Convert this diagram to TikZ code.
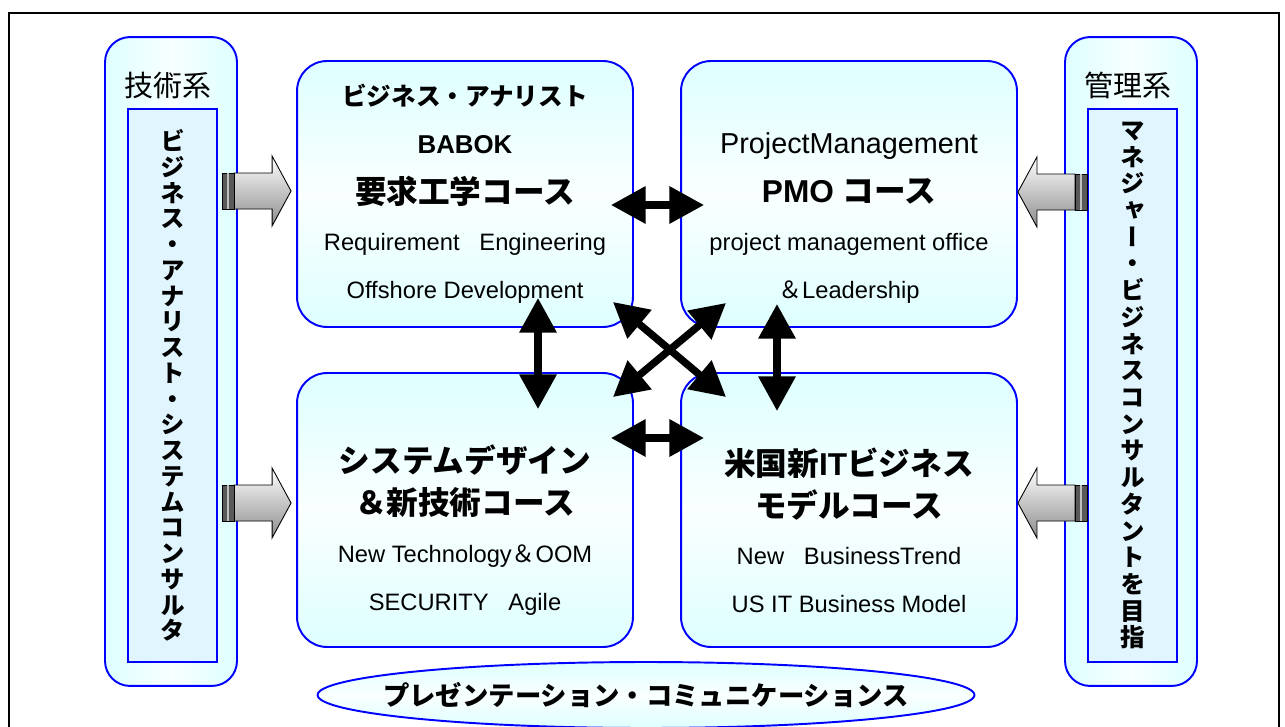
\documentclass[tikz,border=0pt]{standalone}
\usepackage{fontspec}
\setmainfont{Liberation Sans}
\newfontfamily\jp{Noto Sans CJK JP}
\newfontfamily\jpv{Noto Sans CJK JP}[RawFeature=+vert]
\usetikzlibrary{shapes.geometric,arrows.meta,calc}
\tikzset{
  course/.style = {rectangle, rounded corners=0.6cm, draw=blue, line width=1.1pt,
                   top color=cyan!13, bottom color=cyan!13, middle color=cyan!2,
                   align=center, minimum width=6.72cm, inner sep=0pt,
                   font=\fontsize{13.5}{27.2}\selectfont},
  pillar/.style = {rectangle, rounded corners=0.5cm, draw=blue, line width=1.1pt,
                   left color=cyan!13, right color=cyan!13, middle color=cyan!3,
                   minimum width=2.64cm, minimum height=12.98cm},
  tate/.style   = {rectangle, draw=blue, line width=0.9pt, fill=cyan!12,
                   minimum width=1.78cm, minimum height=11.06cm, inner sep=0pt,
                   align=center},
  side/.style   = {font=\jp\fontsize{16.5}{20}\selectfont},
  dbl/.style    = {{Triangle[length=19.8pt,width=20.4pt]}-{Triangle[length=19.8pt,width=20.4pt]},
                   line width=4.2pt},
  talk/.style   = {ellipse, draw=blue, line width=1.1pt, top color=cyan!13,
                   bottom color=cyan!13, middle color=cyan!2, inner sep=0pt,
                   minimum width=13.14cm, minimum height=1.32cm},
}
\newcommand\gap{{\jp\fontsize{14}{27.2}\selectfont\phantom{ビ}}}
% grey block arrow with striped tail, #1 = tip, #2 = 1 (right) or -1 (left)
\newcommand\fatarrow[2]{%
  \begin{scope}[shift={#1}, xscale=#2]
    \shade[top color=white, bottom color=black!45, draw=black, line width=0.5pt]
      (0,0) -- (-19,-35) -- (-19,-18) -- (-57,-18) -- (-57,18) -- (-19,18) -- (-19,35) -- cycle;
    \filldraw[fill=black!65, draw=black, line width=0.5pt] (-69,-18) rectangle (-57,18);
    \draw[black!25, line width=0.8pt] (-63,-18) -- (-63,18);
  \end{scope}}

\begin{document}
\begin{tikzpicture}[x=0.02cm, y=-0.02cm]
  \useasboundingbox (0,0) rectangle (1285,727);
  \clip (0,0) rectangle (1285,727);

  \node[pillar] (tech) at (171,361.5) {};
  \node[side] (techlbl) at (168,85) {技術系};
  \node[tate, font=\jpv\bfseries\fontsize{14}{14.65}\selectfont] (techin) at (172.5,385.5)
    {ビ\\ジ\\ネ\\ス\\・\\ア\\ナ\\リ\\ス\\ト\\・\\シ\\ス\\テ\\ム\\コ\\ン\\サ\\ル\\タ};

  \node[pillar] (mgmt) at (1131,361.5) {};
  \node[side] (mgmtlbl) at (1128,85) {管理系};
  \node[tate, font=\jpv\bfseries\fontsize{14}{15.2}\selectfont] (mgmtin) at (1132.5,385.5)
    {マ\\ネ\\ジ\\ャ\\ー\\・\\ビ\\ジ\\ネ\\ス\\コ\\ン\\サ\\ル\\タ\\ン\\ト\\を\\目\\指};

  \node[course, minimum height=5.32cm] (req) at (465,194) {%
    {\jp\bfseries\fontsize{14}{27.2}\selectfont ビジネス・アナリスト}\\
    {\bfseries\fontsize{14.7}{27.2}\selectfont BABOK}\\[1pt]
    {\jp\bfseries\fontsize{18}{27.2}\selectfont 要求工学コース}\\
    Requirement\ \ \ Engineering\\
    Offshore Development};
  \node[course, minimum height=5.32cm] (pmo) at (849,194) {%
    \gap\\
    {\fontsize{16.4}{27.2}\selectfont ProjectManagement}\\[1pt]
    {\bfseries\fontsize{18}{27.2}\selectfont PMO {\jp コース}}\\
    project management office\\
    {\jp ＆}Leadership};
  \node[course, minimum height=5.48cm] (sys) at (465,510) {%
    \gap\\
    {\jp\bfseries\fontsize{18}{27.2}\selectfont システムデザイン}\\[-3.4pt]
    {\jp\bfseries\fontsize{18}{27.2}\selectfont ＆新技術コース}\\
    New Technology{\jp ＆}OOM\\
    SECURITY\ \ \ Agile};
  \node[course, minimum height=5.48cm] (us) at (849,510) {%
    \gap\\
    {\bfseries\fontsize{18}{27.2}\selectfont{\jp 米国新}IT{\jp ビジネス}}\\[-3.4pt]
    {\jp\bfseries\fontsize{18}{27.2}\selectfont モデルコース}\\
    New\ \ \ BusinessTrend\\
    US IT Business Model};

  \node[talk, label={[font=\jp\bfseries\fontsize{15}{18}\selectfont]center:プレゼンテーション・コミュニケーションス}]
    (pres) at (646,695) {};

  \fatarrow{($(req.west)+(-5,-3)$)}{1}
  \fatarrow{($(sys.west)+(-5,-7)$)}{1}
  \fatarrow{($(pmo.east)+(0,-2)$)}{-1}
  \fatarrow{($(us.east)+(0,-7)$)}{-1}

  \draw[dbl] ($(req.east)+(-23,11)$) -- ($(pmo.west)+(24,11)$);
  \draw[dbl] ($(sys.east)+(-23,-72)$) -- ($(us.west)+(24,-72)$);
  \draw[dbl] ($(req.south)+(73,-30)$) -- ($(sys.north)+(73,37)$);
  \draw[dbl] ($(pmo.south)+(-72,-24)$) -- ($(us.north)+(-72,39)$);
  \draw[dbl] ($(req.south east)+(-21,-26)$) -- ($(us.north west)+(46,25)$);
  \draw[dbl] ($(pmo.south west)+(46,-25)$) -- ($(sys.north east)+(-21,25)$);

  \draw[line width=1.1pt] (9,13) rectangle (1279,760);
\end{tikzpicture}
\end{document}
